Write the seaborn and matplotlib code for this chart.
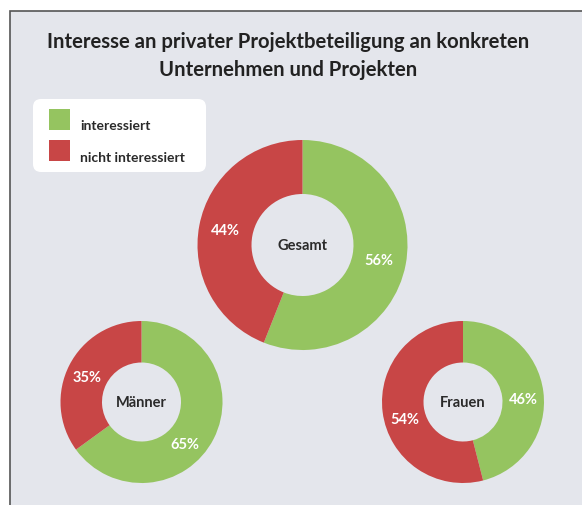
import matplotlib
matplotlib.use("Agg")
import matplotlib.pyplot as plt
import seaborn as sns
import numpy as np
from matplotlib.patches import Rectangle, FancyBboxPatch

sns.set_theme(style="white")

# ---- data ----
title = "Interesse an privater Projektbeteiligung an konkreten\nUnternehmen und Projekten"
categories = ["interessiert", "nicht interessiert"]
groups = ["Gesamt", "Männer", "Frauen"]
interessiert = [56, 65, 46]
nicht_interessiert = [44, 35, 54]

colors = ["#95c460", "#c84646"]
bg = "#e4e6ec"

plt.rcParams['font.family'] = ["Lato", 'DejaVu Sans']

W, H = 582, 506
fig = plt.figure(figsize=(W / 100, H / 100), dpi=100)
fig.patch.set_facecolor("white")
ax = fig.add_axes([0, 0, 1, 1])

# panel
ax.add_patch(Rectangle((9.5, -5), W + 20, H - 11.5 + 5, facecolor=bg,
                       edgecolor="#555555", linewidth=1.2, zorder=0))

ax.text(288, H - 56, title, ha="center", va="center", fontsize=14.6,
        fontweight="bold", color="#222222", linespacing=1.5)

# donuts: (center x, center y in px from top, outer radius, inner radius)
layout = [(302.5, 246, 105, 51), (141.5, 403, 81, 39.5), (463, 403, 81, 39.5)]
# small angular nudges (degrees) for the percentage labels [green, red]
label_nudge = [(0, 0), (17, -2), (4, -9)]

for i, g in enumerate(groups):
    cx, cy, R, r = layout[i]
    vals = [interessiert[i], nicht_interessiert[i]]
    ax.pie(vals, colors=colors, startangle=90, counterclock=False,
           center=(cx, H - cy), radius=R,
           wedgeprops=dict(width=R - r, linewidth=0), frame=True)
    start = 0.0
    rm = (R + r) / 2
    for k, v in enumerate(vals):
        mid = np.deg2rad((start + v / 2) / 100 * 360 + label_nudge[i][k])
        x = cx + rm * np.sin(mid)
        y = (H - cy) + rm * np.cos(mid)
        ax.text(x, y, f"{v}%", ha="center", va="center", color="white",
                fontsize=10.5, fontweight="bold")
        start += v
    ax.text(cx, H - cy, g, ha="center", va="center", color="#2a2a2a",
            fontsize=10.5, fontweight="bold")

ax.set_xlim(0, W)
ax.set_ylim(0, H)
ax.set_aspect("equal")
ax.axis("off")

# legend
ax.add_patch(FancyBboxPatch((33, H - 173), 173, 73,
                            boxstyle="round,pad=0,rounding_size=8",
                            facecolor="white", edgecolor="none", zorder=3))
for j, c in enumerate(categories):
    top = 110 + j * 31
    ax.add_patch(Rectangle((49, H - top - 21), 21, 21, facecolor=colors[j],
                           edgecolor="none", zorder=4))
    ax.text(80, H - top - 20.5, c, ha="left", va="baseline", fontsize=10,
            fontweight="bold", color="#2a2a2a", zorder=5)

fig.savefig("out.png", dpi=100, facecolor="white")
